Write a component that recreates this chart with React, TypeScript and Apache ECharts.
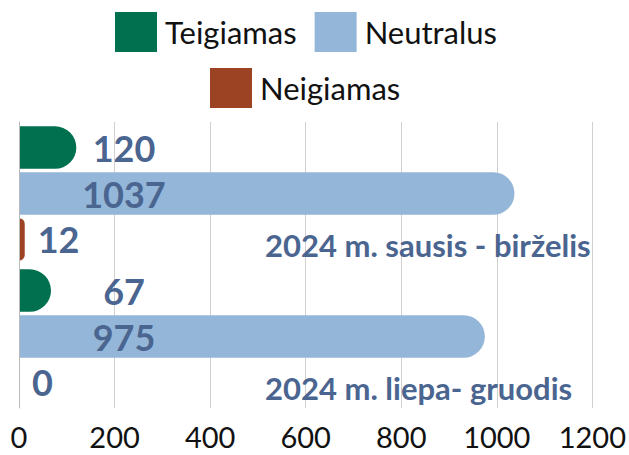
import React, { useEffect, useRef } from "react";
import * as echarts from "echarts";

const categories = ["2024 m. sausis - birželis", "2024 m. liepa- gruodis"];
const teigiamas = [120, 67];
const neutralus = [1037, 975];
const neigiamas = [12, 0];
const xTicks = [0, 200, 400, 600, 800, 1000, 1200];

const FONT = "Lato, 'Open Sans', sans-serif";
const LABEL_BLUE = "#4a6590";

export default function App() {
  const ref = useRef<HTMLDivElement>(null);
  useEffect(() => {
    if (!ref.current) return;
    const chart = echarts.init(ref.current, undefined, { renderer: "svg" });
    const valueLabel = {
      show: true,
      position: [105, "50%"],
      align: "center",
      verticalAlign: "middle",
      color: LABEL_BLUE,
      fontFamily: FONT,
      fontWeight: "bold",
      fontSize: 36,
    };
    const legendText = { fontSize: 31, color: "#111", fontFamily: FONT, padding: [0, 0, 0, 3] };
    chart.setOption({
      animation: false,
      textStyle: { fontFamily: FONT },
      legend: [
        {
          data: ["Teigiamas", "Neutralus"],
          top: 7,
          left: 110,
          itemWidth: 42,
          itemHeight: 40,
          itemGap: 18,
          icon: "rect",
          textStyle: legendText,
        },
        {
          data: ["Neigiamas"],
          top: 63,
          left: 205,
          itemWidth: 42,
          itemHeight: 40,
          icon: "rect",
          textStyle: legendText,
        },
      ],
      grid: { left: 19, right: 35, top: 122, bottom: 47, containLabel: false },
      xAxis: {
        type: "value",
        min: xTicks[0],
        max: xTicks[xTicks.length - 1],
        interval: 200,
        axisLine: { show: false },
        axisTick: { show: false },
        splitLine: { show: true, lineStyle: { color: "#d0d0d0", width: 1 } },
        axisLabel: {
          fontSize: 29,
          color: "#111",
          fontFamily: FONT,
          margin: 14,
          formatter: (v: number) => String(v),
        },
      },
      yAxis: {
        type: "category",
        inverse: true,
        data: categories,
        z: 5,
        axisLine: { show: true, lineStyle: { color: "#bbbbbb", width: 1 } },
        axisTick: { show: false },
        axisLabel: {
          inside: true,
          margin: 246,
          align: "left",
          verticalAlign: "middle",
          formatter: (v: string) => `{gap|}\n{t|${v}}`,
          rich: {
            gap: { height: 102 },
            t: {
              color: LABEL_BLUE,
              fontFamily: FONT,
              fontWeight: "bold",
              fontSize: 31,
              height: 36,
            },
          },
        },
      },
      series: [
        {
          name: "Teigiamas",
          type: "bar",
          data: teigiamas,
          barGap: "8%",
          barCategoryGap: "6%",
          itemStyle: { color: "#00704f", borderRadius: [0, 22, 22, 0] },
          label: valueLabel,
        },
        {
          name: "Neutralus",
          type: "bar",
          data: neutralus,
          barGap: "8%",
          barCategoryGap: "6%",
          itemStyle: { color: "#94b6d8", borderRadius: [0, 22, 22, 0] },
          label: valueLabel,
        },
        {
          name: "Neigiamas",
          type: "bar",
          data: neigiamas,
          barGap: "8%",
          barCategoryGap: "6%",
          itemStyle: { color: "#9c4324", borderRadius: [0, 22, 22, 0] },
          label: {
            show: true,
            position: "right",
            distance: 13,
            color: LABEL_BLUE,
            fontFamily: FONT,
            fontWeight: "bold",
            fontSize: 36,
          },
        },
      ],
    });
    return () => chart.dispose();
  }, []);
  return <div ref={ref} style={{ width: 629, height: 455, position: "absolute", left: 0, top: 0 }} />;
}
